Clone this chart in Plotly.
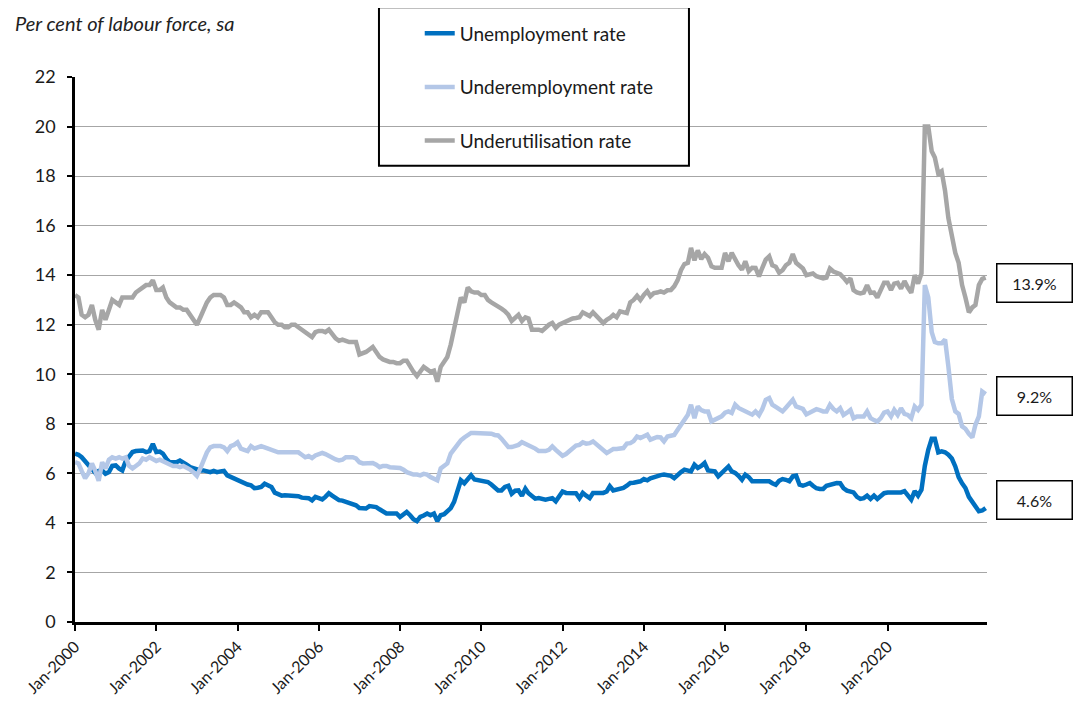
import pandas as pd
import plotly.graph_objects as go

# monthly, starting Jan-2000
start_month = "2000-01-01"

unemployment = [
    6.8, 6.75, 6.65, 6.5, 6.35, 6.2, 6.02, 6.1, 6.12, 5.98,
    6.05, 6.3, 6.32, 6.19, 6.12, 6.5, 6.7, 6.86, 6.9, 6.92,
    6.92, 6.86, 6.9, 7.19, 6.86, 6.88, 6.8, 6.59, 6.45, 6.45,
    6.45, 6.52, 6.45, 6.35, 6.25, 6.2, 6.15, 6.12, 6.12, 6.08,
    6.05, 6.1, 6.05, 6.08, 6.1, 5.92, 5.85, 5.8, 5.72, 5.65,
    5.58, 5.55, 5.52, 5.4, 5.42, 5.45, 5.58, 5.5, 5.45, 5.22,
    5.18, 5.1, 5.12, 5.12, 5.12, 5.12, 5.08, 5.02, 5.0, 5.0,
    4.91, 5.05, 5.0, 4.95, 5.05, 5.2, 5.1, 4.98, 4.92, 4.9,
    4.84, 4.8, 4.75, 4.71, 4.6, 4.58, 4.58, 4.68, 4.65, 4.64,
    4.55, 4.45, 4.38, 4.38, 4.38, 4.38, 4.24, 4.35, 4.44, 4.31,
    4.15, 4.07, 4.24, 4.3, 4.38, 4.31, 4.38, 4.07, 4.31, 4.35,
    4.45, 4.6, 4.85, 5.3, 5.72, 5.6, 5.78, 5.92, 5.75, 5.72,
    5.72, 5.7, 5.65, 5.55, 5.4, 5.31, 5.31, 5.45, 5.5, 5.18,
    5.3, 5.31, 5.1, 5.38, 5.2, 5.11, 4.98, 5.0, 4.97, 4.94,
    4.97, 5.0, 4.87, 5.05, 5.27, 5.21, 5.21, 5.21, 5.2, 5.0,
    5.21, 5.1, 5.0, 5.21, 5.2, 5.21, 5.21, 5.27, 5.48, 5.31,
    5.35, 5.37, 5.41, 5.5, 5.61, 5.62, 5.64, 5.68, 5.77, 5.72,
    5.8, 5.85, 5.9, 5.93, 5.95, 5.93, 5.9, 5.81, 5.95, 6.05,
    6.15, 6.1, 6.08, 6.35, 6.22, 6.3, 6.42, 6.12, 6.1, 6.08,
    5.88, 6.0, 6.15, 6.28, 6.08, 6.02, 5.9, 5.74, 5.95, 5.85,
    5.68, 5.68, 5.68, 5.68, 5.68, 5.68, 5.6, 5.54, 5.7, 5.77,
    5.74, 5.68, 5.88, 5.91, 5.54, 5.5, 5.55, 5.61, 5.5, 5.4,
    5.37, 5.37, 5.5, 5.54, 5.55, 5.61, 5.6, 5.4, 5.3, 5.28,
    5.23, 5.05, 4.97, 5.0, 5.1, 4.97, 5.1, 4.97, 5.1, 5.2,
    5.23, 5.23, 5.23, 5.23, 5.23, 5.28, 5.14, 4.94, 5.28, 5.1,
    5.34, 6.3, 6.95, 7.4, 7.4, 6.85, 6.89, 6.85, 6.75, 6.6,
    6.28, 5.85, 5.6, 5.41, 5.05, 4.85, 4.65, 4.47, 4.5, 4.6,
]

underemployment = [
    6.45, 6.4, 6.1, 5.8, 6.0, 6.4, 6.1, 5.7, 6.45, 6.2,
    6.55, 6.65, 6.6, 6.65, 6.6, 6.65, 6.3, 6.2, 6.3, 6.4,
    6.6, 6.55, 6.65, 6.6, 6.5, 6.55, 6.5, 6.45, 6.35, 6.3,
    6.3, 6.25, 6.3, 6.25, 6.15, 6.05, 5.9, 6.2, 6.5, 6.85,
    7.05, 7.1, 7.1, 7.1, 7.05, 6.9, 7.1, 7.15, 7.25, 7.0,
    6.95, 6.9, 7.1, 7.0, 7.05, 7.1, 7.05, 7.0, 6.95, 6.9,
    6.85, 6.85, 6.85, 6.85, 6.85, 6.85, 6.85, 6.75, 6.65, 6.7,
    6.62, 6.72, 6.78, 6.83, 6.78, 6.7, 6.6, 6.56, 6.52, 6.55,
    6.65, 6.65, 6.65, 6.6, 6.45, 6.4, 6.42, 6.4, 6.42, 6.35,
    6.25, 6.3, 6.3, 6.25, 6.25, 6.25, 6.22, 6.15, 6.05, 6.0,
    5.95, 5.95, 5.92, 5.98, 5.95, 5.85, 5.78, 5.72, 6.2, 6.3,
    6.4, 6.8, 7.0, 7.2, 7.33, 7.45, 7.53, 7.63, 7.63, 7.63,
    7.63, 7.63, 7.6, 7.6, 7.55, 7.53, 7.4, 7.26, 7.06, 7.06,
    7.12, 7.15, 7.26, 7.2, 7.12, 7.05, 7.0, 6.9, 6.89, 6.9,
    6.95, 7.09, 6.95, 6.8, 6.71, 6.78, 6.9, 7.02, 7.12, 7.15,
    7.25, 7.2, 7.22, 7.29, 7.16, 7.05, 6.96, 6.82, 6.9, 6.98,
    6.98, 6.98, 7.02, 7.2, 7.22, 7.3, 7.49, 7.43, 7.5, 7.56,
    7.36, 7.43, 7.47, 7.45, 7.29, 7.49, 7.5, 7.55, 7.76, 7.95,
    8.15, 8.37, 8.77, 8.23, 8.7, 8.55, 8.5, 8.5, 8.1, 8.15,
    8.23, 8.3, 8.45, 8.5, 8.44, 8.77, 8.64, 8.57, 8.5, 8.45,
    8.37, 8.5, 8.35, 8.6, 8.97, 9.04, 8.77, 8.68, 8.6, 8.5,
    8.65, 8.8, 8.97, 8.7, 8.63, 8.6, 8.38, 8.45, 8.56, 8.59,
    8.55, 8.5, 8.5, 8.77, 8.6, 8.5, 8.63, 8.36, 8.45, 8.56,
    8.23, 8.3, 8.3, 8.3, 8.5, 8.23, 8.15, 8.09, 8.23, 8.45,
    8.5, 8.3, 8.56, 8.36, 8.63, 8.4, 8.36, 8.23, 8.7, 8.56,
    8.77, 13.6, 13.1, 11.7, 11.3, 11.25, 11.25, 11.4, 10.3, 9.0,
    8.5, 8.4, 7.9, 7.8, 7.6, 7.45, 7.96, 8.3, 9.3, 9.2,
]

underutilisation = [
    13.2, 13.1, 12.4, 12.3, 12.4, 12.8, 12.2, 11.8, 12.6, 12.2,
    12.6, 13.0, 12.9, 12.8, 13.1, 13.1, 13.1, 13.1, 13.3, 13.4,
    13.5, 13.6, 13.6, 13.8, 13.4, 13.4, 13.5, 13.1, 12.9, 12.8,
    12.7, 12.7, 12.6, 12.6, 12.4, 12.2, 12.0, 12.3, 12.6, 12.9,
    13.1, 13.2, 13.2, 13.2, 13.1, 12.8, 12.8, 12.9, 12.8, 12.7,
    12.5, 12.5, 12.3, 12.4, 12.3, 12.5, 12.5, 12.5, 12.3, 12.1,
    12.0, 12.0, 11.9, 11.9, 12.0, 12.0, 11.9, 11.8, 11.7, 11.6,
    11.5, 11.7, 11.75, 11.75, 11.7, 11.8, 11.6, 11.45, 11.35, 11.4,
    11.35, 11.3, 11.3, 11.3, 10.8, 10.85, 10.9, 11.0, 11.1, 10.9,
    10.7, 10.6, 10.55, 10.5, 10.5, 10.45, 10.45, 10.55, 10.55, 10.3,
    10.1, 9.93, 10.1, 10.3, 10.2, 10.1, 10.15, 9.7, 10.3, 10.5,
    10.7, 11.2, 11.8, 12.4, 13.1, 12.9, 13.5, 13.35, 13.3, 13.3,
    13.2, 13.2, 13.0, 12.9, 12.8, 12.75, 12.65, 12.55, 12.4, 12.15,
    12.3, 12.4, 12.15, 12.3, 12.25, 11.8, 11.8, 11.8, 11.75, 11.9,
    12.0, 12.07, 11.87, 12.0, 12.07, 12.15, 12.2, 12.25, 12.27, 12.3,
    12.5, 12.4, 12.35, 12.5, 12.35, 12.2, 12.07, 12.2, 12.27, 12.4,
    12.3, 12.54, 12.5, 12.47, 12.9, 13.0, 13.17, 13.0, 13.2, 13.35,
    13.15, 13.28, 13.3, 13.35, 13.3, 13.39, 13.4, 13.55, 13.8, 14.2,
    14.45, 14.5, 15.1, 14.6, 15.0, 14.65, 14.85, 14.7, 14.36, 14.3,
    14.3, 14.3, 14.9, 14.56, 14.9, 14.6, 14.4, 14.22, 14.56, 14.16,
    14.3, 14.29, 13.95, 14.3, 14.63, 14.76, 14.4, 14.34, 14.1, 14.2,
    14.4, 14.5, 14.85, 14.5, 14.35, 14.27, 14.0, 14.05, 14.07, 13.96,
    13.9, 13.87, 13.9, 14.27, 14.15, 14.1, 14.04, 13.9, 13.73, 13.87,
    13.4, 13.3, 13.26, 13.3, 13.6, 13.29, 13.3, 13.1, 13.4, 13.69,
    13.69, 13.4, 13.66, 13.69, 13.46, 13.76, 13.5, 13.29, 14.0, 13.66,
    14.07, 20.0, 20.0, 19.0, 18.75, 18.1, 18.2, 17.4, 16.3, 15.5,
    14.9, 14.5, 13.6, 13.1, 12.5, 12.7, 12.8, 13.6, 13.85, 13.9,
]

series_names = ["Unemployment rate", "Underemployment rate", "Underutilisation rate"]
series_colors = ["#0070c0", "#b4c7e7", "#a6a6a6"]
tick_years = [2000, 2002, 2004, 2006, 2008, 2010, 2012, 2014, 2016, 2018, 2020]

months = pd.date_range(start_month, periods=len(unemployment), freq="MS")
tick_dates = [pd.Timestamp(year=y, month=1, day=1) for y in tick_years]
font = "Lato, 'Open Sans', sans-serif"

fig = go.Figure()
for i, (name, vals, col) in enumerate(zip(series_names,
                                          [unemployment, underemployment, underutilisation],
                                          series_colors)):
    fig.add_trace(go.Scatter(x=months, y=vals, name=name, mode="lines",
                             line=dict(color=col, width=4.5),
                             legendgroup=str(i)))

# page body adds 8px around the figure, so the figure is 16px smaller than the window
fig.update_layout(
    width=1065, height=698,
    margin=dict(l=67, r=86, t=69, b=84, autoexpand=False),
    paper_bgcolor="white", plot_bgcolor="white",
    font=dict(family=font, color="#1a1a1a"),
    showlegend=True,
    legend=dict(x=0.378, y=1.115, xanchor="left", yanchor="top",
                bgcolor="rgba(0,0,0,0)", borderwidth=0,
                font=dict(size=19, color="#1a1a1a"),
                tracegroupgap=26, traceorder="grouped"),
)

fig.update_xaxes(
    type="date",
    range=["2000-01-01", "2022-06-13"],
    tickvals=tick_dates, tickformat="%b-%Y",
    tickangle=-45, tickfont=dict(size=16, color="#1a1a1a"),
    showgrid=False, showline=True, linecolor="black", linewidth=3,
    ticks="outside", ticklen=6, tickwidth=2, tickcolor="black",
    zeroline=False, automargin=False,
)
fig.update_yaxes(
    range=[0, 22], dtick=2, tick0=0,
    tickfont=dict(size=18, color="#1a1a1a"),
    showgrid=True, gridcolor="#a6a6a6", gridwidth=1,
    showline=True, linecolor="black", linewidth=2.5,
    ticks="outside", ticklen=5, tickwidth=2, tickcolor="black",
    ticklabelstandoff=8, zeroline=False, automargin=False,
)

# legend frame
fig.add_shape(type="rect", xref="paper", yref="paper",
              x0=0.3333, x1=0.6732, y0=0.837, y1=1.128,
              line=dict(color="black", width=2), fillcolor="rgba(0,0,0,0)")

fig.add_annotation(text="<i>Per cent of labour force, sa</i>", xref="paper", yref="paper",
                   x=-0.068, y=1.124, xanchor="left", yanchor="top",
                   showarrow=False, font=dict(size=20, color="#222222"))

# end-value boxes
for vals, ypos in [(underutilisation, 13.69), (underemployment, 9.12), (unemployment, 4.93)]:
    fig.add_annotation(text=f"{vals[-1]:.1f}%", xref="paper", yref="y",
                       x=1.052, y=ypos, xanchor="center", yanchor="middle",
                       showarrow=False, width=72, height=35, borderpad=1,
                       bordercolor="black", borderwidth=1.5, bgcolor="white",
                       font=dict(size=16, color="#1a1a1a"))

fig.write_html("out.html")
